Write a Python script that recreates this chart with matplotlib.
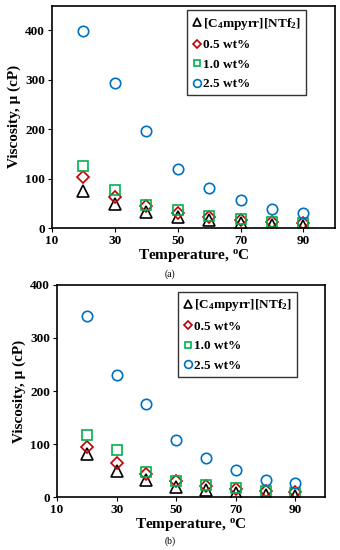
import matplotlib
matplotlib.use('Agg')
import matplotlib.pyplot as plt
import numpy as np

plt.rcParams['font.family'] = ['Liberation Serif', 'DejaVu Serif']
plt.rcParams['font.weight'] = 'bold'
plt.rcParams['mathtext.fontset'] = 'custom'
plt.rcParams['mathtext.rm'] = 'Liberation Serif:bold'
plt.rcParams['mathtext.it'] = 'Liberation Serif:bold'
plt.rcParams['mathtext.bf'] = 'Liberation Serif:bold'
plt.rcParams['mathtext.default'] = 'rm'

# temperatures, oC
temp = np.array([20, 30, 40, 50, 60, 70, 80, 90])

# panel (a)
a_il = [75, 48, 32, 22, 16, 10, 7, 5]
a_05 = [103, 64, 45, 30, 22, 17, 12, 10]
a_10 = [126, 77, 47, 36, 25, 18, 13, 11]
a_25 = [398, 293, 197, 119, 82, 57, 38, 30]

# panel (b)
b_il = [82, 50, 33, 20, 14, 8, 5, 3]
b_05 = [94, 65, 43, 31, 22, 16, 11, 10]
b_10 = [118, 88, 47, 31, 23, 17, 11, 8]
b_25 = [341, 230, 175, 108, 74, 52, 33, 27]

labels = ['[C$_4$mpyrr][NTf$_2$]', '0.5 wt%', '1.0 wt%', '2.5 wt%']
xticks = [10, 30, 50, 70, 90]

fig = plt.figure(figsize=(3.4, 5.5), dpi=100)
ax1 = fig.add_axes([0.153, 0.585, 0.832, 0.405])
ax2 = fig.add_axes([0.168, 0.096, 0.788, 0.386])


def draw(ax, il, w05, w10, w25, ymax, anchor):
    ax.plot(temp, il, '^', ms=8.5, mfc='none', mec='black', mew=1.2, label=labels[0])
    ax.plot(temp, w05, 'D', ms=6, mfc='none', mec='#c00000', mew=1.2, label=labels[1])
    ax.plot(temp, w10, 's', ms=6.5, mfc='none', mec='#00b050', mew=1.2, label=labels[2])
    ax.plot(temp, w25, 'o', ms=7.5, mfc='none', mec='#0070c0', mew=1.2, label=labels[3])
    ax.set_xlim(10, 100)
    ax.set_ylim(0, ymax)
    ax.set_xticks(xticks)
    ax.set_yticks([0, 100, 200, 300, 400])
    ax.tick_params(labelsize=9.5, length=3, pad=2, direction='out')
    for s in ax.spines.values():
        s.set_linewidth(1.2)
    ax.set_xlabel('Temperature, $^\\mathrm{o}$C', fontsize=11, fontweight='bold', labelpad=0)
    ax.set_ylabel('Viscosity, \u03bc (cP)', fontsize=11, fontweight='bold', labelpad=3)
    leg = ax.legend(loc='upper right', fontsize=9.5, frameon=True, fancybox=False,
                    edgecolor='black', handletextpad=0.1, handlelength=0.7,
                    labelspacing=0.55, borderpad=0.4, borderaxespad=0,
                    markerscale=0.75, bbox_to_anchor=anchor)
    leg.get_frame().set_linewidth(1.0)


draw(ax1, a_il, a_05, a_10, a_25, 450, (0.897, 0.978))
draw(ax2, b_il, b_05, b_10, b_25, 400, (0.896, 0.967))

fig.text(0.5, 1 - 274 / 550, '(a)', ha='center', va='center', fontsize=7, fontweight='normal')
fig.text(0.5, 1 - 541 / 550, '(b)', ha='center', va='center', fontsize=7, fontweight='normal')

fig.savefig('out.png', dpi=100)
